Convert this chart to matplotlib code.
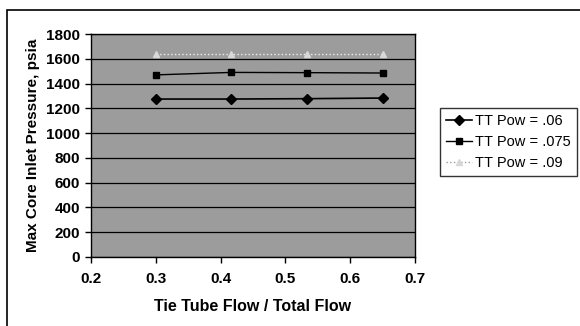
import matplotlib
matplotlib.use("Agg")
import matplotlib.pyplot as plt
from matplotlib.patches import Rectangle

plt.rcParams['font.family'] = ['Liberation Sans', 'DejaVu Sans']

flow_ratio = [0.30, 0.4167, 0.5333, 0.65]
pow_06 = [1275, 1275, 1278, 1283]
pow_075 = [1470, 1490, 1488, 1485]
pow_09 = [1638, 1638, 1638, 1638]
series_labels = ["TT Pow = .06", "TT Pow = .075", "TT Pow = .09"]

fig = plt.figure(figsize=(5.8, 3.26), dpi=100)
fig.patch.set_facecolor('white')

# outer chart frame (runs off the right and bottom edges)
fig.patches.append(Rectangle((7 / 580, -0.05), 1.2, 1 - 10 / 326 + 0.05,
                             transform=fig.transFigure, fill=False,
                             edgecolor='black', linewidth=1.2, zorder=0))

ax = fig.add_axes([91 / 580, 1 - 257 / 326, (415 - 91) / 580, (257 - 34) / 326])
ax.set_facecolor('#9c9c9c')

ax.plot(flow_ratio, pow_06, color='black', lw=1.2, marker='D', ms=5,
        label=series_labels[0], zorder=3)
ax.plot(flow_ratio, pow_075, color='black', lw=1.0, marker='s', ms=5,
        label=series_labels[1], zorder=3)
ax.plot(flow_ratio, pow_09, color='#ececec', lw=1.0, ls=':', marker='^', ms=4,
        markerfacecolor='#d8d8d8', markeredgecolor='#d8d8d8',
        label=series_labels[2], zorder=3)

ax.set_xlim(0.2, 0.7)
ax.set_ylim(0, 1800)
ax.set_xticks([0.2, 0.3, 0.4, 0.5, 0.6, 0.7])
ax.set_yticks(range(0, 1801, 200))
ax.grid(axis='y', color='black', lw=0.9)
ax.set_axisbelow(True)
for s in ax.spines.values():
    s.set_color('black')
    s.set_linewidth(1.0)

ax.tick_params(axis='both', direction='out', length=4, width=1, colors='black',
               labelsize=11, pad=4)
ax.tick_params(axis='x', pad=7)
for lab in ax.get_xticklabels() + ax.get_yticklabels():
    lab.set_fontweight('bold')

ax.set_xlabel("Tie Tube Flow / Total Flow", fontsize=11.5, fontweight='bold', labelpad=9)
ax.set_ylabel("Max Core Inlet Pressure, psia", fontsize=11, fontweight='bold', labelpad=4)

leg = fig.legend(loc='upper left', bbox_to_anchor=(440 / 580, 1 - 108 / 326),
                 bbox_transform=fig.transFigure, frameon=True, fancybox=False,
                 edgecolor='black', fontsize=10.5, handlelength=1.8,
                 handletextpad=0.2, borderpad=0.4, labelspacing=0.5,
                 borderaxespad=0)
leg.get_frame().set_linewidth(1.0)
leg.get_lines()[2].set_color('#9a9a9a')

fig.savefig("out.png", dpi=100, facecolor='white')
